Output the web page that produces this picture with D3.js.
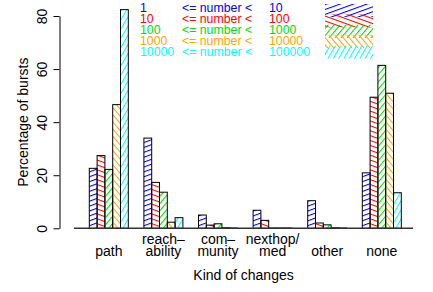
<!DOCTYPE html>
<html>
<head>
<meta charset="utf-8">
<script src="https://d3js.org/d3.v7.min.js"></script>
<style>
  body { margin: 0; background: #fff; }
  text { font-family: "Liberation Sans", Arial, sans-serif; }
</style>
</head>
<body>
<div id="chart"></div>
<script>
// groups along the x axis (two-line labels split into lines)
const categories = [["path"], ["reach–", "ability"], ["com–", "munity"], ["nexthop/", "med"], ["other"], ["none"]];

// size classes of bursts
const lowBounds = ["1", "10", "100", "1000", "10000"];
const highBounds = ["10", "100", "1000", "10000", "100000"];

// percentage of bursts per class, one value per group
const class1 = [22.6, 34.0, 5.0, 6.8, 10.4, 20.9];
const class10 = [27.4, 17.3, 1.2, 3.0, 2.0, 49.4];
const class100 = [22.2, 13.6, 1.7, 0.1, 1.3, 61.4];
const class1000 = [46.6, 2.3, 0.2, 0.1, 0.2, 50.9];
const class10000 = [82.4, 4.0, 0.1, 0.1, 0.1, 13.4];

const yTicks = [0, 20, 40, 60, 80];

const series = [class1, class10, class100, class1000, class10000];
const colors = ["#0000ff", "#ff0000", "#00dd00", "#ffa500", "#00ffff"];
const angles = [20, -20, 50, -50, 60];

const width = 433, height = 292;

const svg = d3.select("#chart").append("svg")
    .attr("width", width)
    .attr("height", height);

// hatch patterns
const defs = svg.append("defs");
colors.forEach((c, i) => {
    const p = defs.append("pattern")
        .attr("id", "hatch" + i)
        .attr("patternUnits", "userSpaceOnUse")
        .attr("width", 20)
        .attr("height", 4.6)
        .attr("patternTransform", `rotate(${-angles[i]})`);
    p.append("line")
        .attr("x1", 0).attr("x2", 20)
        .attr("y1", 0.5).attr("y2", 0.5)
        .attr("stroke", c)
        .attr("stroke-width", 1.1);
});

const x = d3.scaleBand()
    .domain(d3.range(categories.length))
    .range([81.5, 409.1])
    .paddingInner(2 / 7)
    .paddingOuter(1 / 7);

const xInner = d3.scaleBand()
    .domain(d3.range(series.length))
    .range([0, x.bandwidth()]);

const y = d3.scaleLinear()
    .domain([0, 80])
    .range([228.3, 16]);

// y axis
const yAxis = svg.append("g")
    .attr("transform", "translate(59.5,0)")
    .call(d3.axisLeft(y).tickValues(yTicks).tickSize(6).tickSizeOuter(0));
yAxis.select(".domain").attr("stroke", "#000");
yAxis.selectAll(".tick text").remove();
yAxis.selectAll(".tick")
    .append("text")
    .attr("transform", "rotate(-90)")
    .attr("x", 0)
    .attr("y", -13)
    .attr("fill", "#000")
    .attr("text-anchor", "middle")
    .attr("font-size", 14)
    .text(d => d);

svg.append("text")
    .attr("transform", `translate(24,${(y(0) + y(80)) / 2}) rotate(-90)`)
    .attr("text-anchor", "middle")
    .attr("dominant-baseline", "middle")
    .attr("font-size", 14)
    .text("Percentage of bursts");

// bars
categories.forEach((cat, gi) => {
    const g = svg.append("g").attr("transform", `translate(${x(gi)},0)`);
    series.forEach((s, si) => {
        const v = s[gi];
        g.append("rect")
            .attr("x", xInner(si))
            .attr("y", y(v))
            .attr("width", xInner.bandwidth())
            .attr("height", y(0) - y(v))
            .attr("fill", `url(#hatch${si})`)
            .attr("stroke", "#000")
            .attr("stroke-width", 1);
    });
});

// baseline
svg.append("line")
    .attr("x1", 74).attr("x2", 413)
    .attr("y1", y(0)).attr("y2", y(0))
    .attr("stroke", "#333")
    .attr("stroke-width", 1.5);

// group labels
categories.forEach((cat, gi) => {
    const cx = x(gi) + x.bandwidth() / 2;
    const lines = cat.length === 1 ? ["", cat[0]] : cat;
    lines.forEach((t, li) => {
        svg.append("text")
            .attr("x", cx)
            .attr("y", 244 + li * 12)
            .attr("text-anchor", "middle")
            .attr("font-size", 14)
            .text(t);
    });
});

svg.append("text")
    .attr("x", 243.5)
    .attr("y", 280)
    .attr("text-anchor", "middle")
    .attr("font-size", 14)
    .text("Kind of changes");

// legend
const leg = svg.append("g");
lowBounds.forEach((lo, i) => {
    const ty = 11.5 + i * 11.1;
    leg.append("text").attr("x", 140).attr("y", ty)
        .attr("fill", colors[i]).attr("font-size", 12.3).text(lo);
    leg.append("text").attr("x", 182).attr("y", ty)
        .attr("fill", colors[i]).attr("font-size", 12.3).text("<= number <");
    leg.append("text").attr("x", 269).attr("y", ty)
        .attr("fill", colors[i]).attr("font-size", 12.3).text(highBounds[i]);
    leg.append("rect")
        .attr("x", 325).attr("y", 4 + i * 10.4)
        .attr("width", 48).attr("height", 13)
        .attr("fill", `url(#hatch${i})`);
});
</script>
</body>
</html>
